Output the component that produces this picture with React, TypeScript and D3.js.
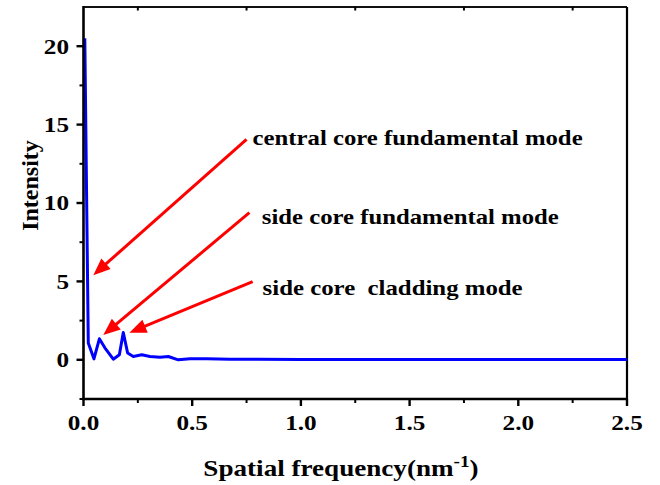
import React from "react";
import * as d3 from "d3";

// Spectrum samples (spatial frequency in nm^-1, intensity)
const freq = [0.006, 0.022, 0.048, 0.073, 0.099, 0.137, 0.165, 0.183, 0.203, 0.229, 0.268, 0.306, 0.352, 0.39, 0.436, 0.49, 0.567, 0.674, 0.8, 1.0, 1.5, 2.0, 2.5];
const intensity = [20.5, 1.07, 0.06, 1.34, 0.75, 0.04, 0.32, 1.74, 0.43, 0.21, 0.32, 0.21, 0.17, 0.21, 0.0, 0.06, 0.06, 0.04, 0.03, 0.02, 0.02, 0.02, 0.02];

const xTicks = [0, 0.5, 1.0, 1.5, 2.0, 2.5];
const xMinorTicks = [0.25, 0.75, 1.25, 1.75, 2.25];
const yTicks = [0, 5, 10, 15, 20];
const yMinorTicks = [-2.5, 2.5, 7.5, 12.5, 17.5];

// Annotation labels with arrows (data coordinates)
const labels = ["central core fundamental mode", "side core fundamental mode", "side core  cladding mode"];
const labelX = [0.778, 0.82, 0.824];
const labelY = [13.7, 8.66, 4.13];
const arrowFromX = [0.75, 0.763, 0.778];
const arrowFromY = [14.05, 9.38, 4.98];
const arrowToX = [0.045, 0.091, 0.211];
const arrowToY = [5.4, 1.58, 1.73];
const labelWidths = [330, 297, 260];

const W = 660;
const H = 485;
const L = 83.5, R = 627, T = 7, B = 399;
const FONT = "'Liberation Serif', 'Times New Roman', serif";

export default function App() {
  const x = d3.scaleLinear().domain([0, 2.5]).range([L, R]);
  const y = d3.scaleLinear().domain([-2.5, 22.5]).range([B, T]);
  const pts: [number, number][] = freq.map((f, i) => [f, intensity[i]]);
  const line = d3.line<[number, number]>().x(d => x(d[0])).y(d => y(d[1]));

  const arrows = labels.map((_, i) => {
    const x1 = x(arrowFromX[i]), y1 = y(arrowFromY[i]);
    const x2 = x(arrowToX[i]), y2 = y(arrowToY[i]);
    const dx = x2 - x1, dy = y2 - y1;
    const len = Math.hypot(dx, dy);
    const ux = dx / len, uy = dy / len;
    const hl = 17, hw = 7;
    const bx = x2 - ux * hl, by = y2 - uy * hl;
    const head = [
      [x2, y2],
      [bx - uy * hw, by + ux * hw],
      [bx + uy * hw, by - ux * hw],
    ].map(p => p.join(",")).join(" ");
    return { x1, y1, bx: bx + ux * 2, by: by + uy * 2, head };
  });

  return (
    <svg width={W} height={H} style={{ position: "absolute", left: 0, top: 0, background: "#fff" }}
      fontFamily={FONT} fontWeight="bold">
      {/* frame */}
      <line x1={L} y1={T} x2={R} y2={T} stroke="#111" strokeWidth={2} />
      <line x1={R} y1={T} x2={R} y2={B} stroke="#000" strokeWidth={2.2} />
      {/* data curve */}
      <path d={line(pts) ?? ""} fill="none" stroke="#0000ff" strokeWidth={3} strokeLinejoin="round" />
      {/* left and bottom axes */}
      <line x1={L} y1={T - 1} x2={L} y2={B + 1.3} stroke="#000" strokeWidth={2.6} />
      <line x1={L - 1.3} y1={B} x2={R + 1} y2={B} stroke="#000" strokeWidth={2.6} />
      {/* x ticks */}
      {xTicks.map(t => (
        <g key={"xt" + t}>
          <line x1={x(t)} x2={x(t)} y1={B} y2={B + 7} stroke="#000" strokeWidth={2.4} />
          <text transform={`translate(${x(t)},430) scale(1.2,1)`} textAnchor="middle" fontSize={21}>
            {d3.format(".1f")(t)}
          </text>
        </g>
      ))}
      {xMinorTicks.map(t => (
        <g key={"xm" + t}>
          <line x1={x(t)} x2={x(t)} y1={B} y2={B + 4} stroke="#000" strokeWidth={2} />
          <line x1={x(t)} x2={x(t)} y1={T} y2={T + 3.5} stroke="#000" strokeWidth={2} />
        </g>
      ))}
      {/* y ticks */}
      {yTicks.map(t => (
        <g key={"yt" + t}>
          <line x1={L - 7} x2={L} y1={y(t)} y2={y(t)} stroke="#000" strokeWidth={2.4} />
          <text transform={`translate(69,${y(t) + 7.3}) scale(1.2,1)`} textAnchor="end" fontSize={21}>
            {t}
          </text>
        </g>
      ))}
      {yMinorTicks.map(t => (
        <line key={"ym" + t} x1={L - 4} x2={L} y1={y(t)} y2={y(t)} stroke="#000" strokeWidth={2} />
      ))}
      {/* axis titles */}
      <text transform="translate(341,476) scale(1.13,1)" textAnchor="middle" fontSize={24}>
        Spatial frequency(nm<tspan fontSize={17} dy={-9}>-1</tspan><tspan dy={9}>)</tspan>
      </text>
      <text transform="translate(38,185.5) rotate(-90)" textAnchor="middle" fontSize={24}>
        Intensity
      </text>
      {/* annotations */}
      {arrows.map((a, i) => (
        <g key={"ar" + i}>
          <line x1={a.x1} y1={a.y1} x2={a.bx} y2={a.by} stroke="#ff0000" strokeWidth={3} />
          <polygon points={a.head} fill="#ff0000" />
          <text x={x(labelX[i])} y={y(labelY[i])} fontSize={22} textLength={labelWidths[i]}
            lengthAdjust="spacingAndGlyphs" xmlSpace="preserve" style={{ whiteSpace: "pre" }}>
            {labels[i]}
          </text>
        </g>
      ))}
    </svg>
  );
}
